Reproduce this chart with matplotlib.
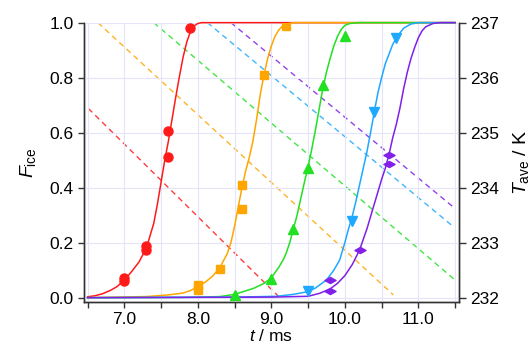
import numpy as np
import matplotlib
matplotlib.use('Agg')
import matplotlib.pyplot as plt
from matplotlib.path import Path

plt.rcParams['font.family'] = ['Liberation Sans', 'DejaVu Sans']
plt.rcParams['font.size'] = 12.5
plt.rcParams['mathtext.fontset'] = 'custom'
plt.rcParams['mathtext.rm'] = 'Liberation Sans'
plt.rcParams['mathtext.it'] = 'Liberation Sans:italic'

colors = ['#ff1a1a', '#ffa500', '#22e022', '#1ea8ff', '#8020e8']

# measured points: time (ms) and ice fraction
red_t = [7.0, 7.0, 7.3, 7.3, 7.6, 7.6, 7.9]
red_f = [0.06, 0.072, 0.173, 0.188, 0.51, 0.605, 0.98]
orange_t = [8.0, 8.0, 8.3, 8.6, 8.6, 8.9, 9.2]
orange_f = [0.028, 0.045, 0.104, 0.322, 0.41, 0.809, 0.988]
green_t = [8.5, 9.0, 9.3, 9.5, 9.7, 10.0]
green_f = [0.01, 0.067, 0.25, 0.473, 0.773, 0.953]
blue_t = [9.5, 10.1, 10.4, 10.7]
blue_f = [0.026, 0.279, 0.674, 0.945]
purple_t = [9.8, 9.8, 10.2, 10.6, 10.6]
purple_f = [0.026, 0.064, 0.175, 0.486, 0.519]

# fitted curves
red_ct = [6.5, 6.6, 6.7, 6.8, 6.9, 7.0, 7.1, 7.2, 7.3, 7.4, 7.45, 7.5, 7.55, 7.6,
          7.65, 7.7, 7.75, 7.8, 7.85, 7.9, 7.95, 8.0, 8.05, 11.5]
red_cf = [0.003, 0.007, 0.014, 0.025, 0.04, 0.064, 0.095, 0.13, 0.18, 0.27, 0.34,
          0.42, 0.5, 0.57, 0.65, 0.73, 0.805, 0.875, 0.93, 0.968, 0.988, 0.997, 1.0, 1.0]
orange_ct = [6.5, 7.3, 7.6, 7.8, 7.9, 8.0, 8.1, 8.2, 8.3, 8.4, 8.45, 8.5, 8.55, 8.6,
             8.65, 8.7, 8.75, 8.8, 8.85, 8.9, 8.95, 9.0, 9.05, 9.1, 9.15, 9.2, 9.3, 11.5]
orange_cf = [0.0, 0.004, 0.01, 0.017, 0.026, 0.04, 0.056, 0.078, 0.11, 0.16, 0.2, 0.26,
             0.33, 0.40, 0.46, 0.51, 0.57, 0.65, 0.74, 0.81, 0.87, 0.915, 0.95, 0.973,
             0.987, 0.995, 1.0, 1.0]
green_ct = [6.5, 7.8, 8.3, 8.5, 8.76, 8.9, 9.0, 9.1, 9.16, 9.2, 9.25, 9.3, 9.35, 9.4,
            9.45, 9.5, 9.55, 9.6, 9.65, 9.7, 9.75, 9.8, 9.85, 9.9, 9.95, 10.0, 10.07,
            10.2, 11.5]
green_cf = [0.0, 0.001, 0.004, 0.012, 0.034, 0.052, 0.072, 0.11, 0.137, 0.16, 0.2, 0.25,
            0.30, 0.36, 0.42, 0.476, 0.54, 0.61, 0.685, 0.76, 0.82, 0.87, 0.915, 0.95,
            0.975, 0.99, 0.997, 1.0, 1.0]
blue_ct = [6.5, 8.5, 9.07, 9.3, 9.5, 9.6, 9.75, 9.85, 9.93, 10.0, 10.05, 10.1, 10.15,
           10.2, 10.25, 10.3, 10.35, 10.4, 10.45, 10.5, 10.55, 10.6, 10.65, 10.7, 10.8,
           10.9, 11.0, 11.5]
blue_cf = [0.0, 0.002, 0.005, 0.012, 0.022, 0.035, 0.064, 0.1, 0.137, 0.2, 0.25, 0.295,
           0.35, 0.41, 0.47, 0.53, 0.6, 0.675, 0.745, 0.8, 0.85, 0.885, 0.92, 0.945,
           0.98, 0.995, 1.0, 1.0]
purple_ct = [6.5, 9.0, 9.5, 9.66, 9.8, 9.9, 10.0, 10.1, 10.2, 10.3, 10.4, 10.5, 10.55,
             10.6, 10.65, 10.7, 10.75, 10.8, 10.85, 10.9, 10.95, 11.0, 11.05, 11.1, 11.2,
             11.3, 11.5]
purple_cf = [0.0, 0.002, 0.005, 0.016, 0.032, 0.052, 0.08, 0.12, 0.173, 0.25, 0.34, 0.43,
             0.47, 0.52, 0.58, 0.63, 0.69, 0.76, 0.82, 0.87, 0.91, 0.945, 0.97, 0.985,
             0.997, 1.0, 1.0]

# temperature profiles (dashed, right axis): start/end time and temperature
red_tt = [6.51, 9.10]
red_T = [235.44, 232.02]
orange_tt = [6.64, 10.66]
orange_T = [237.0, 232.05]
green_tt = [7.40, 11.5]
green_T = [237.0, 232.32]
blue_tt = [8.13, 11.45]
blue_T = [237.0, 233.32]
purple_tt = [8.45, 11.5]
purple_T = [237.0, 233.62]

diamond = Path([(-1, 0), (0, 0.55), (1, 0), (0, -0.55), (-1, 0)],
               [Path.MOVETO, Path.LINETO, Path.LINETO, Path.LINETO, Path.CLOSEPOLY])

fig = plt.figure(figsize=(5.31, 3.51), dpi=100)
ax = fig.add_axes([0.158, 0.1405, 0.706, 0.795])
ax2 = ax.twinx()

ymin = -0.0146
ax.set_xlim(6.45, 11.55)
ax.set_ylim(ymin, 1.0)
ax2.set_ylim(232 + ymin * 5, 237)

ax.set_xticks([7, 8, 9, 10, 11])
ax.set_xticklabels(['7.0', '8.0', '9.0', '10.0', '11.0'])
ax.set_xticks(np.arange(6.5, 11.6, 1.0), minor=True)
ax.set_yticks([0, 0.2, 0.4, 0.6, 0.8, 1.0])
ax.set_yticklabels(['0.0', '0.2', '0.4', '0.6', '0.8', '1.0'])
ax2.set_yticks([232, 233, 234, 235, 236, 237])

gridc = '#e4e4fa'
ax.grid(True, which='major', axis='both', color=gridc, lw=0.8)
ax.grid(True, which='minor', axis='x', color=gridc, lw=0.8)
ax.set_axisbelow(True)

for a in (ax, ax2):
    for s in a.spines.values():
        s.set_color('#333333')
        s.set_linewidth(1.0)
    a.spines['top'].set_visible(False)
ax.tick_params(which='both', direction='out', length=4, width=1, color='#333333')
ax2.tick_params(direction='out', length=5, width=1, color='#333333')

curves = [(red_ct, red_cf), (orange_ct, orange_cf), (green_ct, green_cf),
          (blue_ct, blue_cf), (purple_ct, purple_cf)]
temps = [(red_tt, red_T), (orange_tt, orange_T), (green_tt, green_T),
         (blue_tt, blue_T), (purple_tt, purple_T)]
pts = [(red_t, red_f, 'o', 6.5), (orange_t, orange_f, 's', 5.5),
       (green_t, green_f, '^', 6.5), (blue_t, blue_f, 'v', 6.5),
       (purple_t, purple_f, diamond, 8)]

for (tt, TT), c in zip(temps, colors):
    ax2.plot(tt, TT, color=c, lw=1.0, dashes=(4, 3), alpha=0.85)
for (ct, cf), c in zip(curves, colors):
    ax.plot(ct, cf, color=c, lw=1.1, clip_on=False)
for (t, f, m, ms), c in zip(pts, colors):
    ax.plot(t, f, ls='none', marker=m, ms=ms, color=c, mec=c)

ax.set_zorder(ax2.get_zorder() + 1)
ax.patch.set_visible(False)

ax.set_xlabel('$t$ / ms', labelpad=1)
ax.set_ylabel('$F_{\\mathrm{ice}}$', fontsize=14, labelpad=8)
ax2.set_ylabel('$T_{\\mathrm{ave}}$ / K', fontsize=14, labelpad=8)

fig.savefig('out.png', dpi=100)
